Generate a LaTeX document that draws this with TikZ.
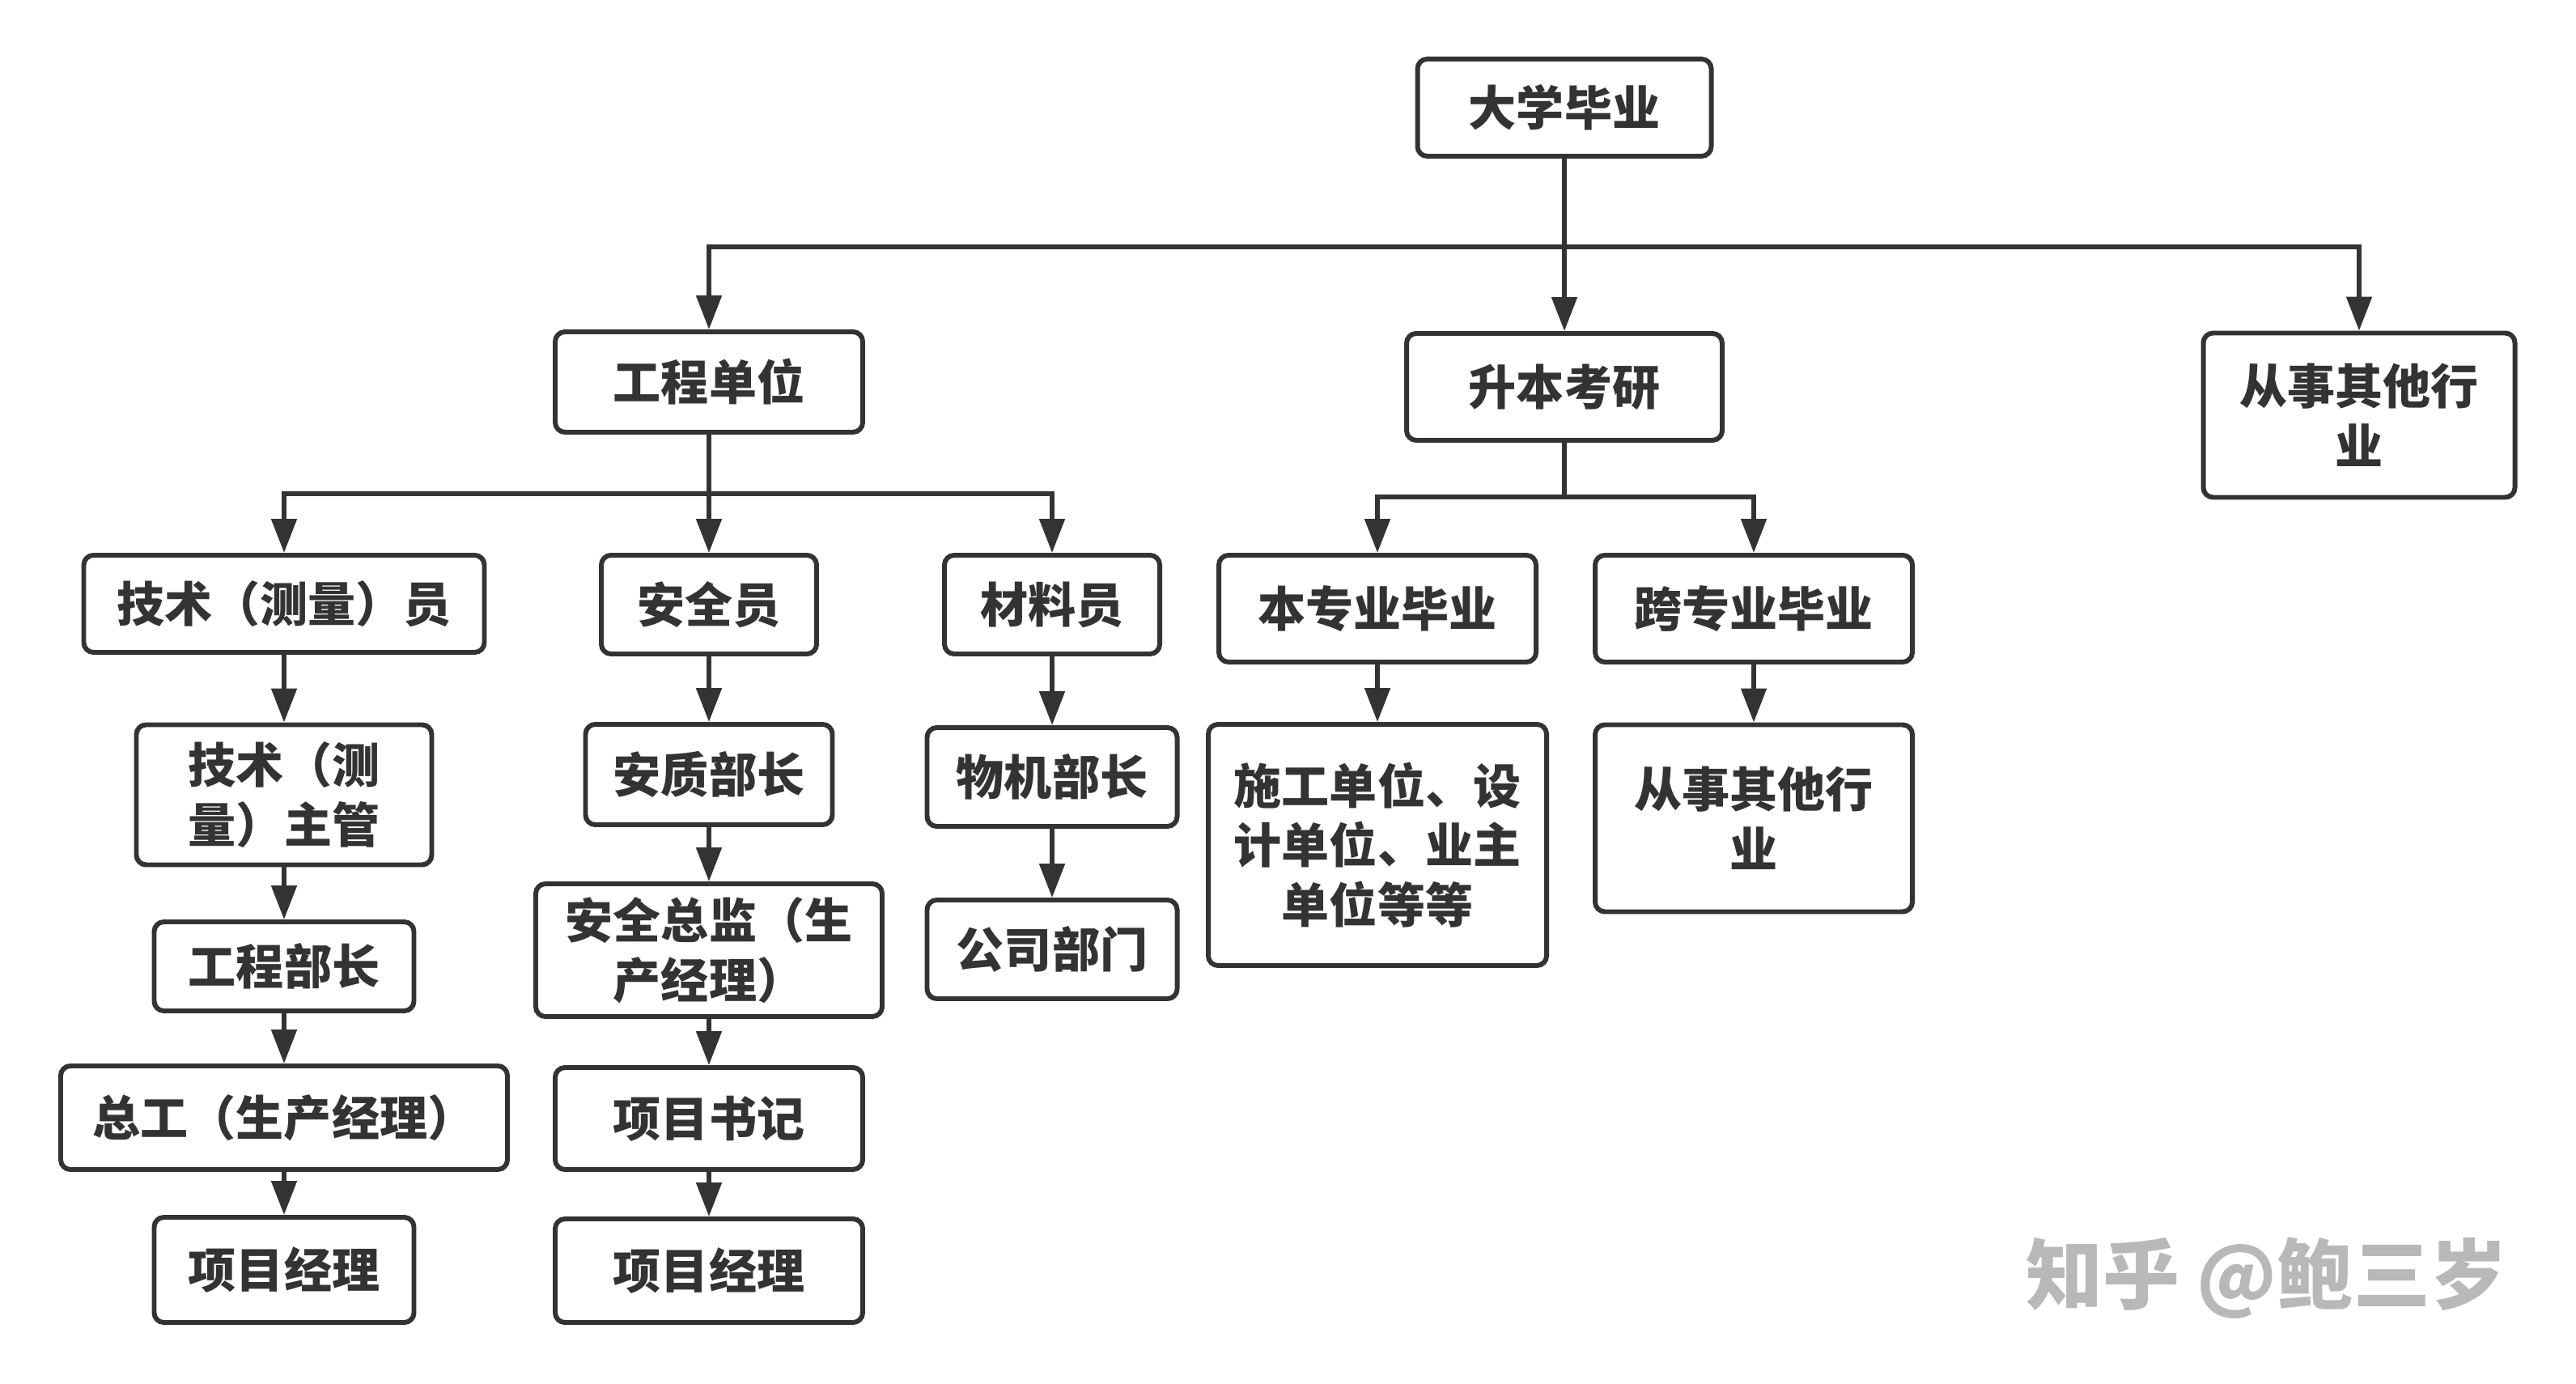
\documentclass[tikz,border=0pt]{standalone}
\usepackage{fontspec}
\setmainfont{Noto Sans CJK SC}
\usetikzlibrary{positioning,arrows.meta,calc}
\definecolor{ink}{HTML}{333333}
\tikzset{
	>={Triangle[length=0.42cm,width=0.31cm]},
	post/.style={
		rectangle,
		rounded corners=0.12cm,
		draw=ink, line width=1.7pt,
		text=ink,
		font=\bfseries\fontsize{16.8}{21}\selectfont,
		align=center,
		inner sep=0pt},
	line/.style={draw=ink, line width=1.5pt, ->},
	watermark/.style={text=black!28, font=\bfseries\fontsize{27}{27}\selectfont},
}

\begin{document}
\begin{tikzpicture}
	\useasboundingbox (0,0) rectangle (31.83,-17.10);

	% top levels
	\node[post, minimum width=3.63cm, minimum height=1.20cm] (grad) at (19.33,-1.33) {大学毕业};
	\node[post, minimum width=3.80cm, minimum height=1.24cm] (site) at (8.76,-4.72) {工程单位};
	\node[post, minimum width=3.90cm, minimum height=1.32cm] (study) at (19.33,-4.78) {升本考研};
	\node[post, minimum width=3.85cm, minimum height=2.03cm] (other) at (29.15,-5.13) {从事其他行\\业};

	\node[post, minimum width=4.95cm, minimum height=1.20cm] (tech) at (3.51,-7.46) {技术（测量）员};
	\node[post, minimum width=2.66cm, minimum height=1.22cm] (safe) at (8.76,-7.47) {安全员};
	\node[post, minimum width=2.66cm, minimum height=1.22cm] (matl) at (13.00,-7.47) {材料员};
	\node[post, minimum width=3.92cm, minimum height=1.32cm] (same) at (17.02,-7.52) {本专业毕业};
	\node[post, minimum width=3.92cm, minimum height=1.32cm] (cross) at (21.67,-7.52) {跨专业毕业};

	% columns
	\node[post, minimum width=3.65cm, minimum height=1.73cm] (techlead) at (3.51,-9.82) {技术（测\\量）主管};
	\node[post, minimum width=3.21cm, minimum height=1.10cm] (eng) at (3.51,-11.94) {工程部长};
	\node[post, minimum width=5.52cm, minimum height=1.28cm] (chief) at (3.51,-13.81) {总工（生产经理）};
	\node[post, minimum width=3.21cm, minimum height=1.30cm] (pm1) at (3.51,-15.69) {项目经理};

	\node[post, minimum width=3.05cm, minimum height=1.24cm] (qual) at (8.76,-9.57) {安质部长};
	\node[post, minimum width=4.28cm, minimum height=1.64cm] (safedir) at (8.76,-11.74) {安全总监（生\\产经理）};
	\node[post, minimum width=3.80cm, minimum height=1.26cm] (sec) at (8.76,-13.82) {项目书记};
	\node[post, minimum width=3.80cm, minimum height=1.28cm] (pm2) at (8.76,-15.70) {项目经理};

	\node[post, minimum width=3.09cm, minimum height=1.22cm] (equip) at (13.00,-9.60) {物机部长};
	\node[post, minimum width=3.09cm, minimum height=1.22cm] (dept) at (13.00,-11.73) {公司部门};

	\node[post, minimum width=4.18cm, minimum height=2.98cm] (units) at (17.02,-10.44) {施工单位、设\\计单位、业主\\单位等等};
	\node[post, minimum width=3.92cm, minimum height=2.31cm] (trade) at (21.67,-10.11) {从事其他行\\业};

	\node[watermark] (zhihu) at (28.01,-15.79) {知乎 @鲍三岁};

	% connectors
	\coordinate (bus1) at ($(grad.south)+(0,-1.09)$);
	\coordinate (bus2) at ($(site.south)+(0,-0.73)$);
	\coordinate (bus3) at ($(study.south)+(0,-0.67)$);

	\draw[line] (grad.south) -- (study.north);
	\draw[line] (bus1) -| (site.north);
	\draw[line] (bus1) -| (other.north);

	\draw[line] (site.south) -- (safe.north);
	\draw[line] (bus2) -| (tech.north);
	\draw[line] (bus2) -| (matl.north);

	\draw[line, -] (study.south) -- (bus3);
	\draw[line] (bus3) -| (same.north);
	\draw[line] (bus3) -| (cross.north);

	\draw[line] (tech) -- (techlead);
	\draw[line] (techlead) -- (eng);
	\draw[line] (eng) -- (chief);
	\draw[line] (chief) -- (pm1);

	\draw[line] (safe) -- (qual);
	\draw[line] (qual) -- (safedir);
	\draw[line] (safedir) -- (sec);
	\draw[line] (sec) -- (pm2);

	\draw[line] (matl) -- (equip);
	\draw[line] (equip) -- (dept);

	\draw[line] (same) -- (units);
	\draw[line] (cross) -- (trade);
\end{tikzpicture}
\end{document}
